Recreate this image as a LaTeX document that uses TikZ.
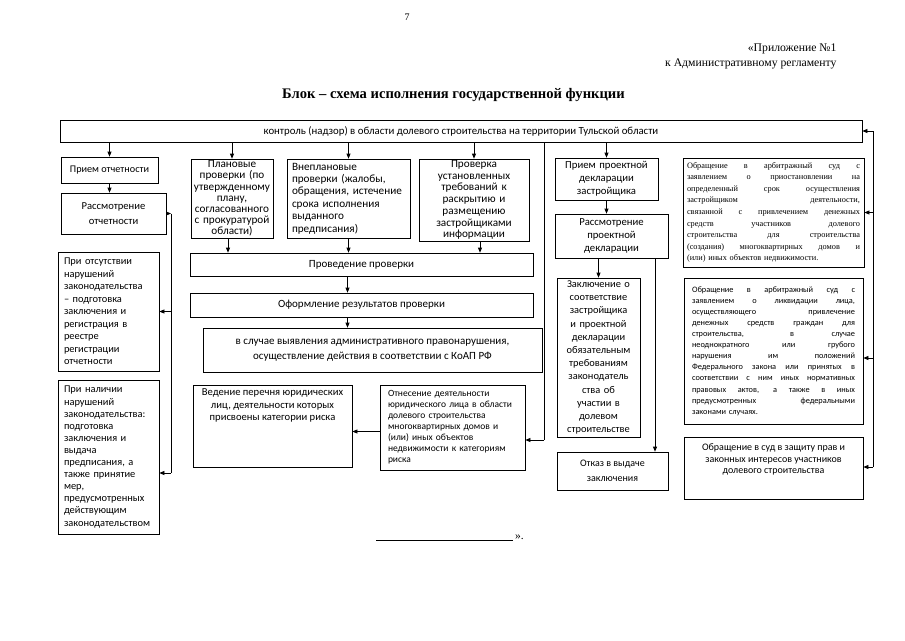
\documentclass[tikz,border=0pt]{standalone}
\usepackage{fontspec}
\setmainfont{Liberation Serif}
\newfontfamily\cf{Carlito}
\usetikzlibrary{arrows.meta,calc}
\newcommand\jl[2]{\leavevmode\hbox to #1{\spaceskip=0pt\xspaceskip=0pt #2}}
\newcommand\fs[2]{\fontsize{#1}{#2}\selectfont}
\begin{document}
\begin{tikzpicture}[x=1pt,y=-1pt,
  box/.style={draw, line width=0.7pt, inner xsep=4pt, inner ysep=1pt, font=\cf\fs{10.4}{12.2}},
  arr/.style={-{Triangle[length=5pt,width=4pt]}, line width=0.7pt},
  ln/.style={line width=0.7pt}]
\useasboundingbox (0,0) rectangle (905,640);

% header
\node[font=\fs{10}{12}] (pg) at (407,17) {7};
\node[anchor=east, align=right, font=\fs{11.7}{15}] (app) at (840,56) {«Приложение №1\\к Административному регламенту};
\node[font=\bfseries\fs{14.6}{16}] (title) at (453.5,95) {Блок – схема исполнения государственной функции};

% top box
\node[box, minimum width=802pt, minimum height=22pt, font=\cf\fs{10.8}{12}] (top) at (461,131) {контроль (надзор) в области долевого строительства на территории Тульской области};

% left column
\node[box, minimum width=97pt, minimum height=26pt, font=\cf\fs{10.2}{12}] (priem) at (109.5,170) {Прием отчетности};
\node[box, minimum width=105pt, minimum height=41pt, align=center, font=\cf\fs{10.6}{15}] (rass) at (113.5,213.5) {Рассмотрение\\отчетности};
\node[box, minimum width=101pt, minimum height=119pt, text width=89pt, inner xsep=6pt, align=left, font=\cf\fs{10.4}{12.5}] (otsut) at (108.5,311.5) {При отсутствии\\нарушений\\законодательства\\– подготовка\\заключения и\\регистрация в\\реестре\\регистрации\\отчетности};
\node[box, minimum width=101pt, minimum height=154pt, text width=89pt, inner xsep=6pt, align=left, font=\cf\fs{10.4}{12.1}] (nalich) at (108.5,457) {При наличии\\нарушений\\законодательства:\\подготовка\\заключения и\\выдача\\предписания, а\\также принятие\\мер,\\предусмотренных\\действующим\\законодательством};

% middle upper
\node[box, minimum width=82pt, minimum height=79pt, text width=78pt, inner xsep=2pt, align=center, font=\cf\fs{11.2}{11.2}] (plan) at (232,198.5) {Плановые\\проверки (по\\утвержденному\\плану,\\согласованного\\с прокуратурой\\области)};
\node[box, minimum width=123pt, minimum height=79pt, text width=113pt, inner xsep=5pt, align=left, font=\cf\fs{11.2}{12.4}] (vnepl) at (348.5,198.5) {Внеплановые\\проверки (жалобы,\\обращения, истечение\\срока исполнения\\выданного\\предписания)};
\node[box, minimum width=110pt, minimum height=82pt, text width=102pt, align=center, font=\cf\fs{11.2}{11.7}] (prov) at (474,200) {Проверка\\установленных\\требований к\\раскрытию и\\размещению\\застройщиками\\информации};

\node[box, minimum width=343pt, minimum height=23pt, font=\cf\fs{11}{12}] (proved) at (361.5,264.5) {Проведение проверки};
\node[box, minimum width=343pt, minimum height=24pt, font=\cf\fs{11}{12}] (oform) at (361.5,305) {Оформление результатов проверки};
\node[box, minimum width=339pt, minimum height=44pt, align=center, font=\cf\fs{11}{15}] (sluch) at (372.5,350) {в случае выявления административного правонарушения,\\осуществление действия в соответствии с КоАП РФ};

% middle lower
\node[box, minimum width=159pt, minimum height=82pt] (ved) at (272.5,426) {};
\node[anchor=north, align=center, inner sep=0pt, font=\cf\fs{10.6}{12.5}] (vedt) at ([yshift=-4pt]ved.north) {Ведение перечня юридических\\лиц, деятельности которых\\присвоены категории риска};
\node[box, minimum width=145pt, minimum height=85pt, text width=129pt, inner xsep=8pt, align=left, font=\cf\fs{9.5}{11}] (otnes) at (452.5,427.5) {Отнесение деятельности\\юридического лица в области\\долевого строительства\\многоквартирных домов и\\(или) иных объектов\\недвижимости к категориям\\риска};

% right-middle column
\node[box, minimum width=103pt, minimum height=42pt, text width=95pt, align=center, font=\cf\fs{10.7}{13}] (prpd) at (606.5,179) {Прием проектной\\декларации\\застройщика};
\node[box, minimum width=113pt, minimum height=44pt, text width=105pt, align=center, font=\cf\fs{10.7}{13}] (rpd) at (611.5,236) {Рассмотрение\\проектной\\декларации};
\node[box, minimum width=83pt, minimum height=159pt, text width=77pt, inner xsep=3pt, align=center, font=\cf\fs{10.4}{13.2}] (zakl) at (598.5,357.5) {Заключение о\\соответствие\\застройщика\\и проектной\\декларации\\обязательным\\требованиям\\законодатель\\ства об\\участии в\\долевом\\строительстве};
\node[box, minimum width=111pt, minimum height=38pt, align=center, font=\cf\fs{10}{15}] (otkaz) at (612.5,471) {Отказ в выдаче\\заключения};

% right column
\node[box, minimum width=181pt, minimum height=109pt, text width=173pt, inner xsep=4pt, align=left, font=\fs{8.3}{11.6}] (r1) at (773.5,212.5) {\jl{173pt}{Обращение в арбитражный суд с}\\\jl{173pt}{заявлением о приостановлении на}\\\jl{173pt}{определенный срок осуществления}\\\jl{173pt}{застройщиком деятельности,}\\\jl{173pt}{связанной с привлечением денежных}\\\jl{173pt}{средств участников долевого}\\\jl{173pt}{строительства для строительства}\\\jl{173pt}{(создания) многоквартирных домов и}\\(или) иных объектов недвижимости.};
\node[box, minimum width=179pt, minimum height=146pt, text width=163pt, inner xsep=8pt, align=left, font=\cf\fs{8.3}{11.1}] (r2) at (773.5,351) {\jl{163pt}{Обращение в арбитражный суд с}\\\jl{163pt}{заявлением о ликвидации лица,}\\\jl{163pt}{осуществляющего привлечение}\\\jl{163pt}{денежных средств граждан для}\\\jl{163pt}{строительства, в случае}\\\jl{163pt}{неоднократного или грубого}\\\jl{163pt}{нарушения им положений}\\\jl{163pt}{Федерального закона или принятых в}\\\jl{163pt}{соответствии с ним иных нормативных}\\\jl{163pt}{правовых актов, а также в иных}\\\jl{163pt}{предусмотренных федеральными}\\законами случаях.};
\node[box, minimum width=179pt, minimum height=62pt] (r3) at (773.5,468) {};
\node[anchor=north, align=center, inner sep=0pt, font=\cf\fs{10}{11.5}] (r3t) at ([yshift=-7pt]r3.north) {Обращение в суд в защиту прав и\\законных интересов участников\\долевого строительства};

% connectors from top
\draw[arr] (top.south -| priem.north) -- (priem.north);
\draw[arr] (top.south -| plan.north) -- (plan.north);
\draw[arr] (top.south -| vnepl.north) -- (vnepl.north);
\draw[arr] (top.south -| prov.north) -- (prov.north);
\draw[arr] (top.south -| prpd.north) -- (prpd.north);

% left column
\draw[arr] (priem.south) -- (priem.south |- rass.north);
\coordinate (lx) at (171,213.5);
\coordinate (lxb) at (171,473);
\draw[arr] (rass.east) -- (lx);
\draw[ln] (lx) -- (lxb);
\draw[arr] (lx |- otsut.east) -- (otsut.east);
\draw[arr] (lxb) -- (lxb -| nalich.east);

% middle
\draw[arr] ([xshift=-4pt]plan.south) -- ([xshift=-4pt]plan.south |- proved.north);
\draw[arr] (vnepl.south) -- (vnepl.south |- proved.north);
\draw[arr] ([xshift=6pt]prov.south) -- ([xshift=6pt]prov.south |- proved.north);
\draw[arr] ([xshift=-14pt]proved.south) -- ([xshift=-14pt]oform.north);
\draw[arr] ([xshift=-14pt]oform.south) -- ([xshift=-14pt]oform.south |- sluch.north);

\coordinate (mx) at (544,440);
\draw[ln] (top.south -| mx) -- (mx);
\draw[arr] (mx) -- (mx -| otnes.east);
\draw[arr] ([yshift=-4pt]otnes.west) -- ([yshift=-4pt]otnes.west -| ved.east);

% right-middle column
\draw[arr] (prpd.south) -- (prpd.south |- rpd.north);
\draw[arr] (zakl.north |- rpd.south) -- (zakl.north);
\coordinate (ox) at (655,0);
\draw[arr] (ox |- rpd.south) -- (ox |- otkaz.north);

% right feedback line
\coordinate (rtop) at (873,131);
\coordinate (rbot) at (873,467);
\draw[ln] (rtop) -- (rbot);
\draw[arr] (rtop) -- (top.east);
\draw[arr] (rtop |- r1.east) -- (r1.east);
\coordinate (r2a) at ($(r2.east)+(0,7)$);
\draw[arr] (rtop |- r2a) -- (r2a);
\draw[arr] (rbot) -- (rbot -| r3.east);

% bottom line
\coordinate (bl1) at (376,540);
\coordinate (bl2) at (513,540);
\draw[line width=0.6pt] (bl1) -- (bl2);
\node[anchor=base west, inner sep=0pt, font=\fs{11.5}{14}] (qt) at (515,539) {».};
\end{tikzpicture}
\end{document}
